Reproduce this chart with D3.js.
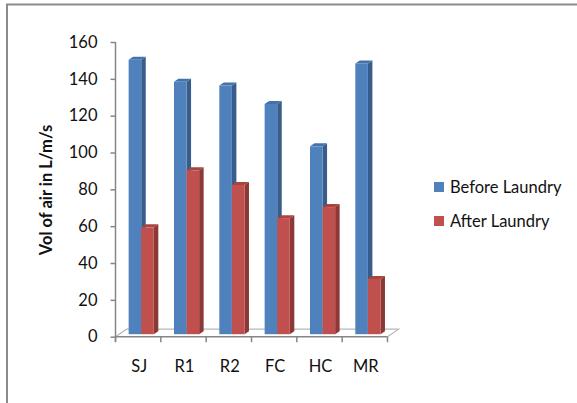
<!DOCTYPE html>
<html>
<head>
<meta charset="utf-8">
<script src="https://cdn.jsdelivr.net/npm/d3@7"></script>
<style>
  html, body { margin: 0; padding: 0; background: #fff; }
  svg { display: block; }
  text { font-family: Lato, "Open Sans", sans-serif; fill: #111; }
</style>
</head>
<body>
<svg id="chart" width="577" height="403"></svg>
<script>
// Air permeability of fabric samples, before and after laundering
const categories = ["SJ", "R1", "R2", "FC", "HC", "MR"];
const seriesNames = ["Before Laundry", "After Laundry"];
const beforeLaundry = [149, 137, 135, 125, 102, 147];
const afterLaundry = [58, 89, 81, 63, 69, 30];
const yTicks = [0, 20, 40, 60, 80, 100, 120, 140, 160];
const yTitle = "Vol of air in L/m/s";

const palette = {
  "Before Laundry": { front: "#4f81bd", side: "#385d8a", top: "#4473aa" },
  "After Laundry":  { front: "#c0504d", side: "#8c3836", top: "#a9443f" }
};

const svg = d3.select("#chart");

// chart area frame
svg.append("rect")
  .attr("x", 7).attr("y", 4.5)
  .attr("width", 600).attr("height", 420)
  .attr("fill", "#fff")
  .attr("stroke", "#8a8a8a").attr("stroke-width", 2);

const plot = { left: 115.5, right: 387.5, top: 42, bottom: 336.7 };
const depth = { dx: 11, dy: -7.5 };      // floor depth
const barDepth = { dx: 4.5, dy: -3 };    // column side/top depth
const lift = 2.5;                        // columns stand slightly into the floor

const x = d3.scaleBand().domain(categories).range([plot.left, plot.right]);
const y = d3.scaleLinear().domain([0, 160]).range([plot.bottom, plot.top]);
const bw = x.bandwidth();
const inner = d3.scaleBand().domain(seriesNames).range([0.29 * bw, 0.845 * bw]);

// floor
svg.append("path")
  .attr("d", d3.line()([
    [plot.left, plot.bottom],
    [plot.left + depth.dx, plot.bottom + depth.dy],
    [plot.right + depth.dx, plot.bottom + depth.dy],
    [plot.right, plot.bottom]
  ]))
  .attr("fill", "#fff")
  .attr("stroke", "#b8b8b8").attr("stroke-width", 1.2);

// columns
const rows = categories.map((c, i) => ({
  cat: c,
  vals: [
    { name: seriesNames[0], v: beforeLaundry[i] },
    { name: seriesNames[1], v: afterLaundry[i] }
  ]
}));

const bars = svg.append("g");
rows.forEach(r => {
  r.vals.forEach(d => {
    const x0 = x(r.cat) + inner(d.name);
    const w = inner.bandwidth();
    const yt = y(d.v) - lift;
    const yb = y(0) - lift;
    const col = palette[d.name];
    const g = bars.append("g");
    // right side face
    g.append("path")
      .attr("d", d3.line()([
        [x0 + w, yb], [x0 + w + barDepth.dx, yb + barDepth.dy],
        [x0 + w + barDepth.dx, yt + barDepth.dy], [x0 + w, yt]
      ]))
      .attr("fill", col.side);
    // top face
    g.append("path")
      .attr("d", d3.line()([
        [x0, yt], [x0 + barDepth.dx, yt + barDepth.dy],
        [x0 + w + barDepth.dx, yt + barDepth.dy], [x0 + w, yt]
      ]))
      .attr("fill", col.top);
    // front face
    g.append("rect")
      .attr("x", x0).attr("y", yt)
      .attr("width", w).attr("height", yb - yt)
      .attr("fill", col.front);
  });
});

// value axis
const yAxis = svg.append("g")
  .attr("transform", `translate(${plot.left},0)`)
  .call(d3.axisLeft(y).tickValues(yTicks).tickSize(5).tickPadding(13).tickFormat(d3.format("d")));
yAxis.select(".domain").attr("stroke", "#868686").attr("stroke-width", 1.5)
  .attr("d", `M0,${plot.top}V${plot.bottom + 5}`);
yAxis.selectAll(".tick line").attr("stroke", "#868686").attr("stroke-width", 1.5);
yAxis.selectAll(".tick text").attr("font-size", 16.5).attr("fill", "#111")
  .attr("font-family", "Lato, sans-serif");

// category axis
const xAxis = svg.append("g")
  .attr("transform", `translate(0,${plot.bottom})`);
xAxis.append("line")
  .attr("x1", plot.left).attr("x2", plot.right)
  .attr("stroke", "#868686").attr("stroke-width", 1.5);
const bounds = categories.map(c => x(c)).concat([plot.right]);
xAxis.selectAll("line.tk").data(bounds).enter().append("line")
  .attr("class", "tk")
  .attr("x1", d => d).attr("x2", d => d)
  .attr("y1", 0).attr("y2", 5.5)
  .attr("stroke", "#868686").attr("stroke-width", 1.5);
xAxis.selectAll("text").data(categories).enter().append("text")
  .attr("x", d => x(d) + bw / 2 + 1)
  .attr("y", 30)
  .attr("dy", "0.35em")
  .attr("text-anchor", "middle")
  .attr("font-size", 16.5)
  .text(d => d);

// axis title
svg.append("text")
  .attr("transform", "translate(46.5,190) rotate(-90)")
  .attr("text-anchor", "middle")
  .attr("dy", "0.35em")
  .attr("font-size", 16.5)
  .attr("font-weight", "bold")
  .text(yTitle);

// legend
const legend = svg.append("g").attr("transform", "translate(434,187)");
const item = legend.selectAll("g").data(seriesNames).enter().append("g")
  .attr("transform", (d, i) => `translate(0,${i * 34})`);
item.append("rect")
  .attr("x", 0).attr("y", -5).attr("width", 10).attr("height", 10)
  .attr("fill", d => palette[d].front);
item.append("text")
  .attr("x", 16).attr("y", 0).attr("dy", "0.35em")
  .attr("font-size", 16.5)
  .text(d => d);
</script>
</body>
</html>
